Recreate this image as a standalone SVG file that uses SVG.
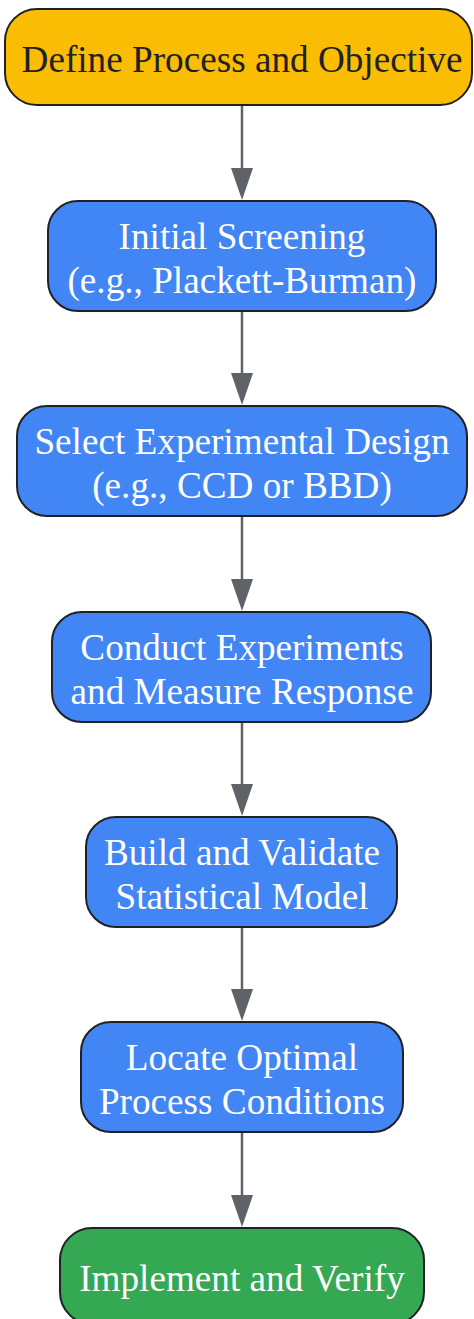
<svg xmlns="http://www.w3.org/2000/svg" width="474" height="1319" viewBox="0 0 474 1319">
<defs>
<style>
.n rect{stroke:#202124;stroke-width:2}
.y rect{fill:#FBBC04}
.b rect{fill:#4285F4}
.g rect{fill:#34A853}
text{font-family:"Liberation Serif","Times New Roman",serif;font-size:37.2px;text-anchor:middle;fill:#ffffff}
.y text{fill:#202124}
.e line{stroke:#5F6368;stroke-width:2.5}
.e path{fill:#5F6368}
</style>
</defs>
<g class="e" id="connectors">
<line x1="242" y1="105" x2="242" y2="172"/><path d="M231,168 L253,168 L242,200 Z"/>
<line x1="242" y1="311" x2="242" y2="377"/><path d="M231,373 L253,373 L242,405 Z"/>
<line x1="242" y1="516" x2="242" y2="583"/><path d="M231,579 L253,579 L242,611 Z"/>
<line x1="242" y1="722" x2="242" y2="788"/><path d="M231,784 L253,784 L242,816 Z"/>
<line x1="242" y1="927" x2="242" y2="993"/><path d="M231,989 L253,989 L242,1021 Z"/>
<line x1="242" y1="1132" x2="242" y2="1199"/><path d="M231,1195 L253,1195 L242,1227 Z"/>
</g>
<g class="n y" id="define">
<rect x="5" y="9" width="467" height="96" rx="32"/>
<text x="242" y="72">Define Process and Objective</text>
</g>
<g class="n b" id="screening">
<rect x="48" y="201" width="388" height="110" rx="30"/>
<text x="242" y="249">Initial Screening</text>
<text x="242" y="293">(e.g., Plackett-Burman)</text>
</g>
<g class="n b" id="design">
<rect x="17" y="406" width="450" height="110" rx="30"/>
<text x="242" y="454">Select Experimental Design</text>
<text x="242" y="498">(e.g., CCD or BBD)</text>
</g>
<g class="n b" id="conduct">
<rect x="52" y="612" width="379" height="110" rx="30"/>
<text x="242" y="660">Conduct Experiments</text>
<text x="242" y="704">and Measure Response</text>
</g>
<g class="n b" id="model">
<rect x="86" y="817" width="311" height="110" rx="30"/>
<text x="242" y="865">Build and Validate</text>
<text x="242" y="909">Statistical Model</text>
</g>
<g class="n b" id="locate">
<rect x="81" y="1022" width="322" height="110" rx="30"/>
<text x="242" y="1070">Locate Optimal</text>
<text x="242" y="1114">Process Conditions</text>
</g>
<g class="n g" id="implement">
<rect x="60" y="1228" width="364" height="96" rx="32"/>
<text x="242" y="1291">Implement and Verify</text>
</g>
</svg>
